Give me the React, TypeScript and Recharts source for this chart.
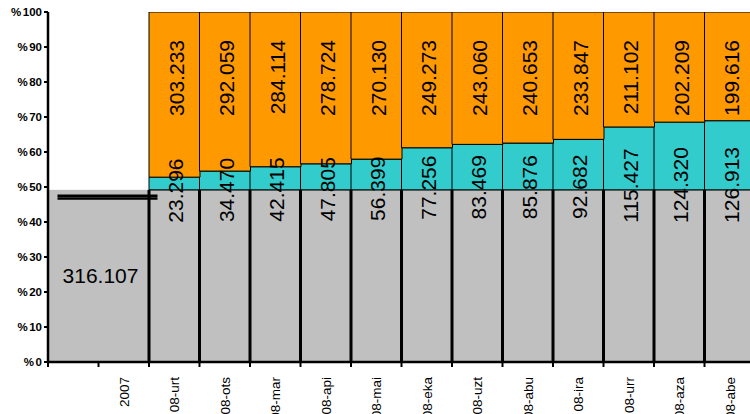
import { BarChart, Bar, XAxis, YAxis, LabelList } from "recharts";

const categories = ["", "2007", "08-urt", "08-ots", "08-mar", "08-api", "08-mai", "08-eka", "08-uzt", "08-abu", "08-ira", "08-urr", "08-aza", "08-abe"];
const baseValue = 316.107;
const tealValues = [null, null, 23.296, 34.47, 42.415, 47.805, 56.399, 77.256, 83.469, 85.876, 92.682, 115.427, 124.32, 126.913];
const orangeValues = [null, null, 303.233, 292.059, 284.114, 278.724, 270.13, 249.273, 243.06, 240.653, 233.847, 211.102, 202.209, 199.616];
const percentTicks = [0, 10, 20, 30, 40, 50, 60, 70, 80, 90, 100];

const total = baseValue + (tealValues[2] as number) + (orangeValues[2] as number);

const data = categories.map((name, i) => ({
  name,
  gray: baseValue,
  teal: tealValues[i],
  orange: orangeValues[i],
}));

const FONT = "Arial, 'Liberation Sans', sans-serif";
const CHART_W = 755;
const Y_W = 48;
const bandWidth = (CHART_W - Y_W) / categories.length;

const fmt = (v: number) => v.toFixed(3);

// which category a bar belongs to (LabelList skips empty entries, so its index can't be trusted)
const slotOf = (x: number) => Math.round((x - Y_W) / bandWidth);

const GrayShape = (props: any) => {
  const { x, y, width, height } = props;
  const framed = slotOf(x) >= 2;
  return (
    <g>
      <rect x={x} y={y} width={width} height={height} fill="#C0C0C0" />
      {framed && <line x1={x} x2={x + width} y1={y} y2={y} stroke="#000" strokeWidth={1} />}
      {framed && <line x1={x} x2={x} y1={y} y2={y + height} stroke="#000" strokeWidth={3} />}
    </g>
  );
};

const GrayLabel = (props: any) => {
  const { x, y, height } = props;
  if (slotOf(x) !== 1) return null;
  return (
    <g>
      <line x1={x - 41} x2={x + 59} y1={y + 5.8} y2={y + 5.8} stroke="#000" strokeWidth={2.5} />
      <line x1={x - 41} x2={x + 59} y1={y + 8.6} y2={y + 8.6} stroke="#000" strokeWidth={2.5} />
      <text x={x + 2} y={y + height / 2 + 7} textAnchor="middle" fontSize={21} fontFamily={FONT} fill="#000">
        {fmt(baseValue)}
      </text>
    </g>
  );
};

// teal labels are drawn here too so they sit on top of the orange bars
const OrangeLabel = (props: any) => {
  const { x, y, width, height } = props;
  const i = slotOf(x);
  const ov = orangeValues[i];
  const tv = tealValues[i];
  if (ov == null || tv == null) return null;
  const cx = x + width / 2 + 9;
  const oy = y + 28;
  const tealH = (tv * height) / ov;
  const tealBottom = y + height + tealH;
  const ty = tealBottom + 2 - 0.1 * tealH;
  return (
    <g fontFamily={FONT} fontSize={21} fill="#000">
      <text x={cx} y={oy} transform={`rotate(-90 ${cx} ${oy})`} textAnchor="end">
        {fmt(ov)}
      </text>
      <text x={cx} y={ty} transform={`rotate(-90 ${cx} ${ty})`} textAnchor="middle">
        {fmt(tv)}
      </text>
    </g>
  );
};

const XTick = (props: any) => {
  const { x, y, payload } = props;
  const bx = x - bandWidth / 2;
  const tx = x + 5;
  const ty = y + 15;
  return (
    <g>
      <line x1={bx} x2={bx} y1={y} y2={y + 5} stroke="#000" strokeWidth={2} />
      <text x={tx} y={ty} transform={`rotate(-90 ${tx} ${ty})`} textAnchor="end" fontSize={13.5} fontFamily={FONT} fill="#000">
        {payload.value}
      </text>
    </g>
  );
};

const YTick = (props: any) => {
  const { x, y, payload } = props;
  const pct = Math.round((payload.value / total) * 100);
  return (
    <text x={x} y={y} dy={4} textAnchor="end" fontWeight="bold" fontSize={11.5} fontFamily={FONT} fill="#000">
      <tspan>%</tspan>
      <tspan dx={1.5}>{pct}</tspan>
    </text>
  );
};

export default function App() {
  return (
    <div style={{ position: "absolute", left: 0, top: 0, width: 750, height: 414, overflow: "hidden", background: "#fff" }}>
      <BarChart
        width={CHART_W}
        height={414}
        data={data}
        margin={{ top: 12, right: 0, bottom: 0, left: 0 }}
        barCategoryGap={0}
        barGap={0}
      >
        <XAxis
          dataKey="name"
          height={52}
          interval={0}
          tickSize={0}
          tickMargin={0}
          axisLine={{ stroke: "#000", strokeWidth: 2.5 }}
          tickLine={false}
          tick={<XTick />}
        />
        <YAxis
          type="number"
          width={Y_W}
          domain={[0, total]}
          ticks={percentTicks.map((p) => (p / 100) * total)}
          interval={0}
          tickSize={4}
          tickMargin={2}
          axisLine={{ stroke: "#000", strokeWidth: 2.5 }}
          tickLine={{ stroke: "#000", strokeWidth: 2 }}
          tick={<YTick />}
          allowDataOverflow
        />
        <Bar dataKey="gray" stackId="a" shape={<GrayShape />} isAnimationActive={false}>
          <LabelList content={<GrayLabel />} />
        </Bar>
        <Bar dataKey="teal" stackId="a" fill="#33CCCC" stroke="#000" strokeWidth={1} isAnimationActive={false} />
        <Bar dataKey="orange" stackId="a" fill="#FF9900" stroke="#000" strokeWidth={1} isAnimationActive={false}>
          <LabelList content={<OrangeLabel />} />
        </Bar>
      </BarChart>
    </div>
  );
}
